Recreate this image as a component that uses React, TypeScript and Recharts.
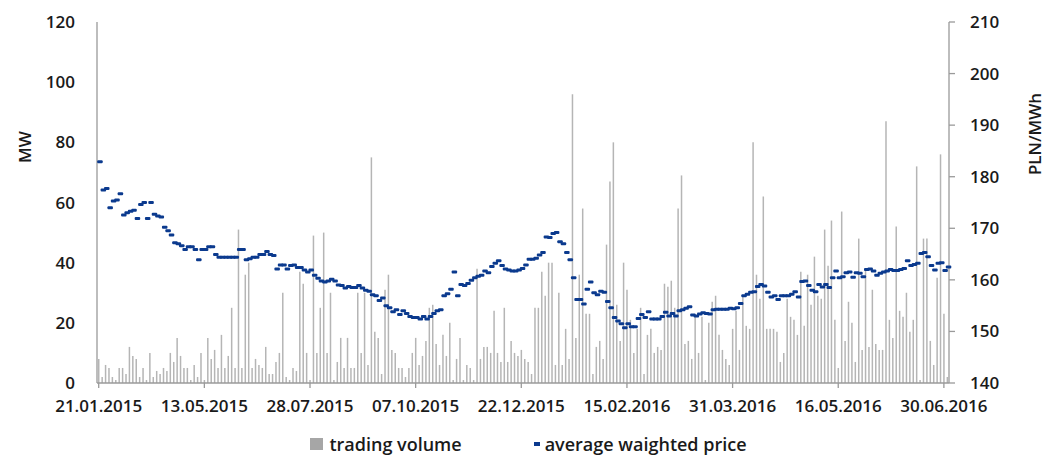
import React from "react"
import {
  Bar,
  ComposedChart,
  Legend,
  Line,
  XAxis,
  YAxis,
} from "recharts"

// trading volume per session, MW (one row ≈ one tick interval)
const volume = [
  8, 2, 6, 5, 2, 1, 5, 5, 3, 12, 9, 8, 2, 5, 1, 10, 2, 4, 3, 5, 4, 10, 7, 15, 9, 5, 5, 1, 6, 2, 10,
  1, 15, 8, 11, 5, 16, 5, 9, 25, 5, 51, 5, 36, 40, 5, 8, 6, 5, 12, 3, 3, 7, 10, 30, 2, 1, 5, 4, 37, 33, 10,
  1, 49, 10, 25, 50, 10, 30, 1, 7, 15, 5, 15, 5, 5, 30, 10, 30, 6, 75, 17, 15, 3, 31, 36, 11, 10, 5, 5, 2, 5, 10,
  15, 6, 9, 14, 25, 26, 13, 6, 16, 9, 20, 1, 8, 15, 1, 6, 5, 1, 38, 8, 12, 12, 10, 24, 10, 7, 25, 7, 14, 10, 9,
  11, 8, 7, 3, 25, 25, 37, 29, 40, 40, 6, 30, 6, 18, 8, 96, 15, 36, 58, 23, 23, 3, 12, 14, 8, 46, 67, 80, 26, 14, 40,
  31, 21, 10, 18, 25, 3, 16, 18, 10, 12, 11, 33, 32, 34, 25, 58, 69, 13, 14, 8, 22, 10, 22, 1, 20, 27, 29, 16, 11, 8, 6,
  18, 24, 11, 29, 19, 18, 80, 36, 28, 62, 18, 18, 18, 17, 7, 10, 28, 22, 21, 16, 37, 19, 36, 26, 42, 29, 28, 51, 39, 54, 21,
  5, 57, 14, 27, 20, 7, 48, 11, 38, 12, 31, 13, 11, 11, 87, 21, 15, 52, 24, 22, 30, 17, 21, 72, 1, 48, 48, 14, 6, 35, 76, 23, 2,
]

// average weighted price per session, PLN/MWh
const price = [
  182.9, 177.4, 177.7, 174.0, 175.3, 175.5, 176.7, 172.6, 173.0, 173.3, 173.5, 171.9, 174.6, 175.0, 171.9, 175.0,
  172.7, 172.4, 172.2, 170.2, 169.5, 168.7, 167.2, 167.0, 166.6, 165.9, 166.4, 166.4, 165.9, 163.9, 165.9,
  165.9, 166.4, 166.4, 164.9, 164.4, 164.4, 164.4, 164.4, 164.4, 164.4, 165.9, 165.9, 163.9, 164.1, 164.4, 164.4,
  164.9, 164.9, 165.5, 164.9, 164.7, 162.1, 162.9, 162.9, 162.1, 162.8, 162.9, 162.4, 162.4, 161.9, 161.5,
  161.9, 160.9, 160.3, 159.8, 159.6, 159.8, 160.1, 159.8, 159.0, 158.9, 158.4, 158.7, 158.5, 158.5, 158.9, 158.4,
  158.0, 157.8, 157.1, 156.9, 156.0, 156.5, 155.0, 154.6, 153.8, 154.2, 153.3, 154.0, 153.5, 152.9, 152.7,
  152.7, 152.4, 152.9, 152.4, 152.9, 153.5, 154.0, 154.2, 156.9, 157.3, 158.2, 161.5, 156.9, 159.1, 158.9, 159.3,
  159.9, 160.4, 160.7, 160.9, 161.7, 161.4, 162.6, 163.2, 163.7, 162.8, 162.1, 161.9, 161.7, 161.7, 161.9,
  162.2, 162.9, 164.0, 164.0, 164.2, 164.8, 165.3, 168.3, 168.2, 169.0, 169.2, 167.4, 167.0, 165.3, 163.9, 160.4,
  156.2, 156.2, 155.3, 158.2, 159.6, 157.5, 157.1, 157.8, 157.6, 155.8, 154.6, 152.7, 152.0, 151.5, 150.7,
  151.5, 150.9, 150.9, 152.5, 153.3, 152.7, 153.8, 152.4, 152.4, 152.4, 152.9, 153.7, 153.0, 153.5, 153.0, 154.0,
  154.2, 154.5, 154.8, 153.2, 153.0, 153.4, 153.6, 153.5, 153.4, 154.2, 154.3, 154.3, 154.3, 154.3, 154.5,
  154.4, 154.6, 155.4, 156.9, 157.2, 157.6, 157.7, 158.7, 159.1, 158.8, 157.6, 156.7, 156.9, 156.2, 156.9, 156.9,
  156.9, 157.2, 157.7, 156.7, 159.7, 159.8, 158.9, 158.0, 157.7, 159.1, 158.6, 159.1, 158.5, 160.4, 161.7,
  160.4, 160.6, 161.4, 161.5, 160.5, 161.4, 161.3, 160.6, 162.0, 162.1, 161.7, 160.9, 161.3, 161.5, 161.7, 162.0,
  161.8, 161.8, 162.0, 162.2, 163.7, 162.8, 163.0, 163.2, 165.1, 165.3, 164.5, 162.8, 161.9, 163.2, 163.3, 161.8, 162.5,
]

// session index -> date label shown under the axis
const tickSessions = [0, 31, 62, 93, 124, 155, 186, 217, 248]
const tickLabels = [
  "21.01.2015",
  "13.05.2015",
  "28.07.2015",
  "07.10.2015",
  "22.12.2015",
  "15.02.2016",
  "31.03.2016",
  "16.05.2016",
  "30.06.2016",
]

const mwTicks = [0, 20, 40, 60, 80, 100, 120]
const plnTicks = [140, 150, 160, 170, 180, 190, 200, 210]

const data = volume.map((v, i) => ({ i, volume: v, price: price[i] }))

const FONT = "'Open Sans', sans-serif"
const WEIGHT = 600
const TEXT = "#1a1a1a"
const AXIS = "#9a9a9a"
const BAR = "#b5b5b5"
const DASH = "#0b3a8e"

const tickStyle = { fill: TEXT, fontSize: 17, fontFamily: FONT, fontWeight: WEIGHT }

function Dash(props: any) {
  const { cx, cy, index } = props
  if (cx == null || cy == null) return <g key={index} />
  return <rect key={index} x={cx - 1.5} y={cy - 1.5} width={5.5} height={3} rx={1} fill={DASH} />
}

function renderLegend() {
  return (
    <div
      style={{
        display: "flex",
        justifyContent: "center",
        alignItems: "center",
        gap: 72,
        paddingTop: 10,
        paddingLeft: 10,
        fontFamily: FONT,
        fontWeight: WEIGHT,
        fontSize: 18,
        color: TEXT,
        lineHeight: "22px",
      }}
    >
      <span style={{ display: "flex", alignItems: "center", gap: 6 }}>
        <span style={{ width: 13, height: 12, background: "#a6a6a6", display: "inline-block" }} />
        trading volume
      </span>
      <span style={{ display: "flex", alignItems: "center", gap: 5 }}>
        <span style={{ width: 6, height: 4, background: DASH, display: "inline-block" }} />
        average waighted price
      </span>
    </div>
  )
}

export default function App() {
  return (
    <div style={{ position: "absolute", left: 0, top: 0 }}>
      <ComposedChart
        width={1047}
        height={455}
        data={data}
        margin={{ top: 22, right: 0, bottom: 0, left: 0 }}
        style={{ fontFamily: FONT }}
      >
        <XAxis
          dataKey="i"
          ticks={tickSessions}
          interval={0}
          tickFormatter={(v: number) => tickLabels[tickSessions.indexOf(v)] ?? ""}
          height={40}
          tickSize={5}
          tickMargin={12}
          tick={tickStyle}
          axisLine={{ stroke: AXIS, strokeWidth: 1.3 }}
          tickLine={{ stroke: AXIS, strokeWidth: 1.3 }}
        />
        <YAxis
          yAxisId="left"
          width={97}
          domain={[0, 120]}
          ticks={mwTicks}
          interval={0}
          tickSize={0}
          tickMargin={22}
          tick={tickStyle}
          axisLine={{ stroke: AXIS, strokeWidth: 1.3 }}
          label={() => (
            <text
              x={31}
              y={147}
              transform="rotate(-90 31 147)"
              textAnchor="middle"
              fill={TEXT}
              fontSize={17}
              fontWeight={WEIGHT}
              fontFamily={FONT}
            >
              MW
            </text>
          )}
        />
        <YAxis
          yAxisId="right"
          orientation="right"
          width={98}
          domain={[140, 210]}
          ticks={plnTicks}
          interval={0}
          tickSize={6}
          tickMargin={15}
          tick={tickStyle}
          axisLine={{ stroke: AXIS, strokeWidth: 1.3 }}
          tickLine={{ stroke: AXIS, strokeWidth: 1.3 }}
          label={() => (
            <text
              x={1041}
              y={134}
              transform="rotate(-90 1041 134)"
              textAnchor="middle"
              fill={TEXT}
              fontSize={17}
              fontWeight={WEIGHT}
              fontFamily={FONT}
            >
              PLN/MWh
            </text>
          )}
        />
        <Bar
          yAxisId="left"
          dataKey="volume"
          name="trading volume"
          fill={BAR}
          barSize={1.5}
          isAnimationActive={false}
        />
        <Line
          yAxisId="right"
          dataKey="price"
          name="average waighted price"
          stroke="none"
          dot={Dash}
          activeDot={false}
          isAnimationActive={false}
        />
        <Legend
          verticalAlign="bottom"
          height={32}
          wrapperStyle={{ left: 0, width: 1047, bottom: 0 }}
          content={renderLegend}
        />
      </ComposedChart>
    </div>
  )
}
